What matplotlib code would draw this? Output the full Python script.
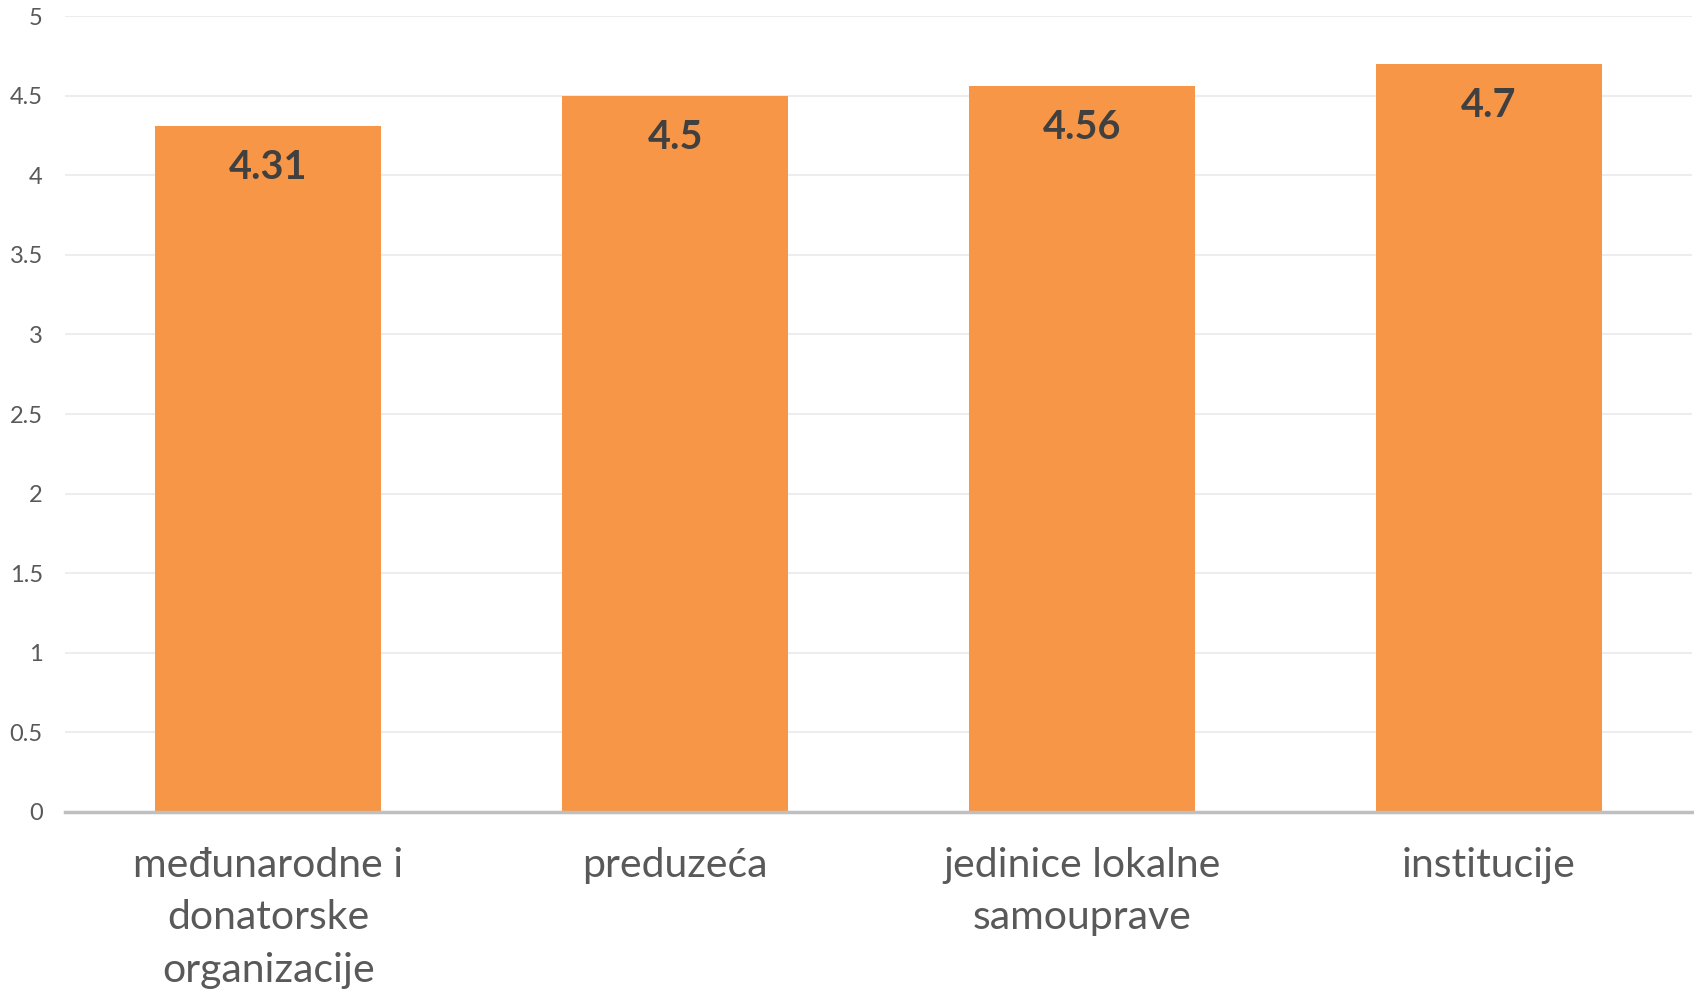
import matplotlib
matplotlib.use("Agg")
import matplotlib.pyplot as plt

# podaci
kategorije = ["međunarodne i\ndonatorske\norganizacije", "preduzeća",
              "jedinice lokalne\nsamouprave", "institucije"]
vrijednosti = [4.31, 4.5, 4.56, 4.7]
y_ticks = [0, 0.5, 1, 1.5, 2, 2.5, 3, 3.5, 4, 4.5, 5]
y_tick_labels = ["0", "0.5", "1", "1.5", "2", "2.5", "3", "3.5", "4", "4.5", "5"]

plt.rcParams['font.family'] = ['Lato', 'DejaVu Sans']

fig = plt.figure(figsize=(16.94, 9.9), dpi=100)
ax = fig.add_axes([0.0384, 0.1798, 0.9604, 0.804])

x = range(len(kategorije))
ax.bar(x, vrijednosti, width=0.556, color='#F79646', zorder=3)

for xi, v in zip(x, vrijednosti):
    ax.annotate(f"{v:g}", (xi, v), xytext=(0, -30), textcoords='offset points',
                ha='center', va='center', fontsize=28.5, fontweight='bold',
                color='#404040', zorder=4)

ax.set_xlim(-0.5, len(kategorije) - 0.5)
ax.set_ylim(0, 5)
ax.set_yticks(y_ticks)
ax.set_yticklabels(y_tick_labels, fontsize=17, color='#595959')
ax.set_xticks(list(x))
ax.set_xticklabels(kategorije, fontsize=29.5, color='#595959', linespacing=1.52,
                   va='top')
ax.tick_params(axis='both', length=0)
ax.tick_params(axis='y', pad=16)
ax.tick_params(axis='x', pad=25)

ax.grid(axis='y', color='#EDEDED', linewidth=1.5, zorder=0)
for s in ['top', 'right', 'left']:
    ax.spines[s].set_visible(False)
ax.spines['bottom'].set_color('#BFBFBF')
ax.spines['bottom'].set_linewidth(2.5)
ax.spines['bottom'].set_zorder(5)

fig.savefig("out.png", dpi=100)
